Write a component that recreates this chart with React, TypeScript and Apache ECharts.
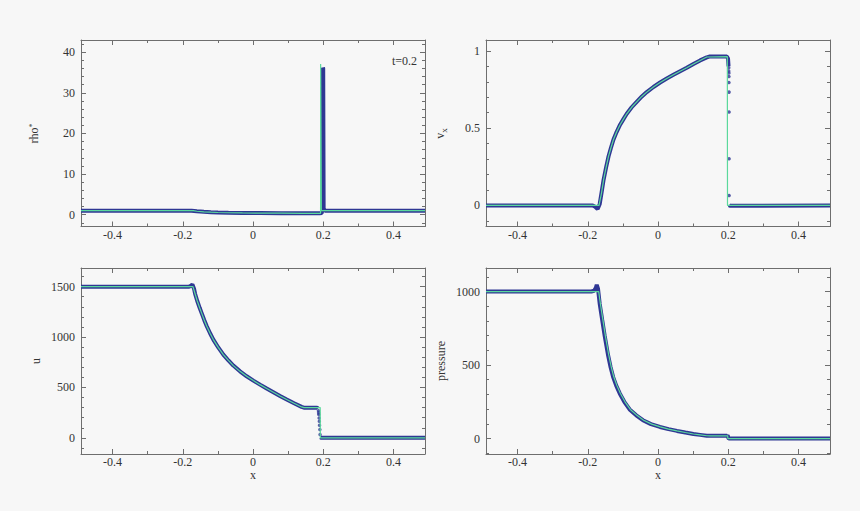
import React, { useEffect, useRef } from 'react';
import * as echarts from 'echarts';

// ---- tick values ----
const xMajorTicks = [-0.4, -0.2, 0, 0.2, 0.4];
const xMinorTicks = [-0.3, -0.1, 0.1, 0.3];
const rhoMajorTicks = [0, 10, 20, 30, 40];
const rhoMinorTicks = [-2, 2, 4, 6, 8, 12, 14, 16, 18, 22, 24, 26, 28, 32, 34, 36, 38, 42];
const vxMajorTicks = [0, 0.5, 1];
const vxMinorTicks = [-0.1, 0.1, 0.2, 0.3, 0.4, 0.6, 0.7, 0.8, 0.9];
const uMajorTicks = [0, 500, 1000, 1500];
const uMinorTicks = [-100, 100, 200, 300, 400, 600, 700, 800, 900, 1100, 1200, 1300, 1400, 1600];
const pMajorTicks = [0, 500, 1000];
const pMinorTicks = [-100, 100, 200, 300, 400, 600, 700, 800, 900, 1100];

// ---- density rho* ----
const rhoExactX = [-0.49, -0.17, -0.16, -0.14, -0.12, -0.1, -0.07, -0.03, 0.02, 0.08, 0.14, 0.1925, 0.1927, 0.1946, 0.1948, 0.49];
const rhoExactY = [1, 1, 0.85, 0.72, 0.62, 0.55, 0.48, 0.43, 0.4, 0.37, 0.35, 0.34, 37.1, 37.1, 1, 1];
const rhoParticleX = [-0.49, -0.175, -0.16, -0.14, -0.12, -0.1, -0.07, -0.03, 0.02, 0.08, 0.14, 0.19, 0.196, 0.1985, 0.1993, 0.2, 0.2012, 0.205, 0.49];
const rhoParticleY = [1, 1, 0.85, 0.72, 0.62, 0.55, 0.48, 0.43, 0.4, 0.37, 0.35, 0.34, 0.4, 2.5, 36.2, 36.0, 1.5, 1, 1];
const rhoDotsX = [0.1968, 0.197, 0.1969, 0.1971, 0.197, 0.1972, 0.1971, 0.1972, 0.1973, 0.1972, 0.1973, 0.1974, 0.1973, 0.1974, 0.1975, 0.1974, 0.1975, 0.1976, 0.1975, 0.1976];
const rhoDotsY = [3.4, 5.3, 6.8, 8.7, 10.2, 12.1, 13.6, 15.5, 17.0, 18.9, 20.4, 22.3, 23.8, 25.7, 27.2, 29.1, 30.6, 32.5, 34.0, 35.5];

// ---- velocity v_x ----
const vxExactX = [-0.49, -0.168, -0.161, -0.155, -0.148, -0.141, -0.134, -0.127, -0.118, -0.108, -0.098, -0.089, -0.075, -0.06, -0.046, -0.032, -0.013, 0.006, 0.025, 0.044, 0.063, 0.082, 0.101, 0.12, 0.139, 0.1975, 0.198, 0.49];
const vxExactY = [0, 0, 0.08, 0.166, 0.245, 0.317, 0.373, 0.425, 0.475, 0.522, 0.56, 0.593, 0.635, 0.672, 0.705, 0.733, 0.766, 0.795, 0.821, 0.845, 0.868, 0.89, 0.915, 0.938, 0.96, 0.962, 0, 0];
const vxParticleX = [-0.49, -0.186, -0.179, -0.172, -0.166, -0.161, -0.155, -0.148, -0.141, -0.134, -0.127, -0.118, -0.108, -0.098, -0.089, -0.075, -0.06, -0.046, -0.032, -0.013, 0.006, 0.025, 0.044, 0.063, 0.082, 0.101, 0.12, 0.139, 0.146, 0.196, 0.1995, 0.201, 0.202, 0.2025, 0.205, 0.49];
const vxParticleY = [0, 0, -0.008, -0.023, 0.01, 0.08, 0.166, 0.245, 0.317, 0.373, 0.425, 0.475, 0.522, 0.56, 0.593, 0.635, 0.672, 0.705, 0.733, 0.766, 0.795, 0.821, 0.845, 0.868, 0.89, 0.915, 0.938, 0.958, 0.963, 0.963, 0.95, 0.9, null, 0.002, -0.002, 0];
const vxDotsX = [0.2015, 0.2015, 0.202, 0.202, 0.202, 0.2025, 0.2025, 0.2025, 0.2025];
const vxDotsY = [0.89, 0.87, 0.856, 0.834, 0.795, 0.733, 0.604, 0.302, 0.065];

// ---- internal energy u ----
const uExactX = [-0.49, -0.171, -0.165, -0.159, -0.152, -0.146, -0.139, -0.132, -0.122, -0.113, -0.099, -0.0845, -0.07, -0.056, -0.037, -0.018, 0.001, 0.02, 0.039, 0.058, 0.077, 0.096, 0.117, 0.1385, 0.145, 0.1915, 0.1918, 0.49];
const uExactY = [1500, 1500, 1430, 1360, 1290, 1235, 1170, 1110, 1035, 975, 897, 826, 768, 717, 660, 611, 568, 528, 489, 452, 415, 380, 343, 307, 300, 300, 0, 0];
const uParticleX = [-0.49, -0.182, -0.177, -0.1726, -0.168, -0.165, -0.159, -0.152, -0.146, -0.139, -0.132, -0.122, -0.113, -0.099, -0.0845, -0.07, -0.056, -0.037, -0.018, 0.001, 0.02, 0.039, 0.058, 0.077, 0.096, 0.117, 0.1385, 0.145, 0.183, 0.185, 0.186, 0.1915, 0.195, 0.49];
const uParticleY = [1500, 1500, 1508, 1522, 1480, 1430, 1360, 1290, 1235, 1170, 1110, 1035, 975, 897, 826, 768, 717, 660, 611, 568, 528, 489, 452, 415, 380, 343, 307, 300, 300, 290, null, 6, 0, 0];
const uDotsX = [0.1865, 0.187, 0.1875, 0.1885, 0.189, 0.1895, 0.1905, 0.191];
const uDotsY = [270, 248, 231, 198, 165, 125, 82, 33];

// ---- pressure ----
const pExactX = [-0.49, -0.169, -0.164, -0.157, -0.15, -0.1405, -0.133, -0.126, -0.117, -0.107, -0.094, -0.0788, -0.06, -0.041, -0.018, 0.0065, 0.03, 0.054, 0.078, 0.101, 0.12, 0.139, 0.15, 0.1985, 0.199, 0.49];
const pExactY = [1000, 1000, 915, 807, 700, 570, 485, 420, 360, 307, 250, 198, 158, 125, 98, 79, 64, 52, 41, 31, 25, 19, 18.6, 18.6, 0, 0];
const pParticleX = [-0.49, -0.19, -0.182, -0.177, -0.1745, -0.171, -0.166, -0.159, -0.152, -0.1425, -0.135, -0.128, -0.119, -0.109, -0.096, -0.0808, -0.062, -0.043, -0.02, 0.0055, 0.03, 0.054, 0.078, 0.101, 0.12, 0.139, 0.15, 0.197, 0.1985, 0.2, 0.2015, 0.49];
const pParticleY = [1000, 1000, 1005, 1025, 1046, 1020, 915, 807, 700, 570, 485, 420, 360, 307, 250, 198, 158, 125, 98, 79, 64, 52, 41, 31, 25, 19, 18.6, 18.6, 23, 8, 0, 0];

const FONT = "'Liberation Serif', 'DejaVu Serif', serif";
const BLUE = '#2f3794';
const GREEN = '#5bd99c';
const AXIS = '#6e6e6e';
const TEXT = '#333333';

function pairs(xs: number[], ys: (number | null)[]) {
  return xs.map((x, i) => (ys[i] === null ? [x, '-'] : [x, ys[i]]));
}

function makeAxes(gridIndex: number, min: number, max: number, majors: number[], minors: number[], sides: [string, string], isX: boolean) {
  const base = {
    type: 'value', gridIndex, min, max, splitLine: { show: false }, axisPointer: { show: false }, silent: true,
  };
  const line = { show: true, onZero: false, lineStyle: { color: AXIS, width: 1 } };
  const noLine = { show: false, onZero: false };
  const majorTick = { show: true, inside: true, length: 5, customValues: majors, lineStyle: { color: AXIS, width: 1 } };
  const minorTick = { show: true, inside: true, length: 3, customValues: minors, lineStyle: { color: AXIS, width: 1 } };
  const label = {
    show: true, customValues: majors, fontFamily: FONT, fontSize: 12, color: TEXT, lineHeight: 12,
    margin: isX ? 2 : 6,
    formatter: (v: number) => '{t|' + String(v) + '}',
    rich: { t: { fontFamily: FONT, fontSize: 12, color: TEXT, lineHeight: 12 } },
  };
  return [
    { ...base, position: sides[0], axisLine: line, axisTick: majorTick, axisLabel: label },
    { ...base, position: sides[0], axisLine: noLine, axisTick: minorTick, axisLabel: { show: false } },
    { ...base, position: sides[1], axisLine: line, axisTick: majorTick, axisLabel: { show: false } },
    { ...base, position: sides[1], axisLine: noLine, axisTick: minorTick, axisLabel: { show: false } },
  ];
}

const panels = [
  { yMin: -2.9, yMax: 43, yMaj: rhoMajorTicks, yMin2: rhoMinorTicks, ex: [rhoExactX, rhoExactY], pa: [rhoParticleX, rhoParticleY], dots: [rhoDotsX, rhoDotsY] },
  { yMin: -0.136, yMax: 1.07, yMaj: vxMajorTicks, yMin2: vxMinorTicks, ex: [vxExactX, vxExactY], pa: [vxParticleX, vxParticleY], dots: [vxDotsX, vxDotsY] },
  { yMin: -160, yMax: 1685, yMaj: uMajorTicks, yMin2: uMinorTicks, ex: [uExactX, uExactY], pa: [uParticleX, uParticleY], dots: [uDotsX, uDotsY] },
  { yMin: -105, yMax: 1160, yMaj: pMajorTicks, yMin2: pMinorTicks, ex: [pExactX, pExactY], pa: [pParticleX, pParticleY], dots: [[], []] },
];

const grids = [
  { left: 81, top: 40, width: 344, height: 186.5 },
  { left: 486, top: 40, width: 344, height: 186.5 },
  { left: 81, top: 268, width: 344, height: 186 },
  { left: 486, top: 268, width: 344, height: 186 },
];

export default function App() {
  const ref = useRef<HTMLDivElement>(null);
  useEffect(() => {
    if (!ref.current) return;
    const chart = echarts.init(ref.current, undefined, { renderer: 'svg' });
    const xAxis: any[] = [];
    const yAxis: any[] = [];
    const series: any[] = [];
    panels.forEach((p, g) => {
      xAxis.push(...makeAxes(g, -0.49, 0.49, xMajorTicks, xMinorTicks, ['bottom', 'top'], true));
      yAxis.push(...makeAxes(g, p.yMin, p.yMax, p.yMaj, p.yMin2, ['left', 'right'], false));
      const ax = { xAxisIndex: g * 4, yAxisIndex: g * 4 };
      series.push({
        type: 'line', ...ax, data: pairs(p.pa[0] as number[], p.pa[1] as any), showSymbol: false, connectNulls: false,
        lineStyle: { color: BLUE, width: 4 }, itemStyle: { color: BLUE }, z: 2, silent: true,
      });
      series.push({
        type: 'scatter', ...ax, data: pairs(p.dots[0] as number[], p.dots[1] as any), symbolSize: 3.5,
        itemStyle: { color: BLUE }, z: 2, silent: true,
      });
      series.push({
        type: 'line', ...ax, data: pairs(p.ex[0] as number[], p.ex[1] as any), showSymbol: false,
        lineStyle: { color: GREEN, width: 1.2 }, itemStyle: { color: GREEN }, z: 3, silent: true,
      });
    });
    const txt = (text: string, x: number, y: number, rot: number, align: string, rich?: any) => ({
      type: 'text', x, y, rotation: rot, silent: true,
      style: {
        text, fill: TEXT, fontFamily: FONT, fontSize: 12, lineHeight: 12,
        align, verticalAlign: 'middle', textAlign: align, textVerticalAlign: 'middle', rich,
      },
    });
    const rich = {
      a: { fontFamily: FONT, fontSize: 12, fill: TEXT, lineHeight: 14, verticalAlign: 'top' },
      s: { fontFamily: FONT, fontSize: 8, fill: TEXT, lineHeight: 14, verticalAlign: 'top' },
      b: { fontFamily: FONT, fontSize: 9, fill: TEXT, lineHeight: 14, verticalAlign: 'top', padding: [5, 0, 0, 0] },
    };
    chart.setOption({
      animation: false,
      backgroundColor: '#f7f7f7',
      textStyle: { fontFamily: FONT, fontSize: 12, color: TEXT },
      grid: grids.map((g) => ({ ...g, containLabel: false })),
      xAxis,
      yAxis,
      series,
      graphic: [
        txt('{a|rho}{s|*}', 35, 133.5, Math.PI / 2, 'center', rich),
        txt('{a|v}{b|x}', 441, 133.5, Math.PI / 2, 'center', rich),
        txt('u', 36, 361, Math.PI / 2, 'center'),
        txt('pressure', 441, 361, Math.PI / 2, 'center'),
        txt('x', 253, 475, 0, 'center'),
        txt('x', 658, 475, 0, 'center'),
        txt('t=0.2', 417, 61, 0, 'right'),
      ],
    });
    return () => chart.dispose();
  }, []);
  return (
    <div
      ref={ref}
      style={{ position: 'fixed', left: 0, top: 0, width: 860, height: 511, background: '#f7f7f7' }}
    />
  );
}
